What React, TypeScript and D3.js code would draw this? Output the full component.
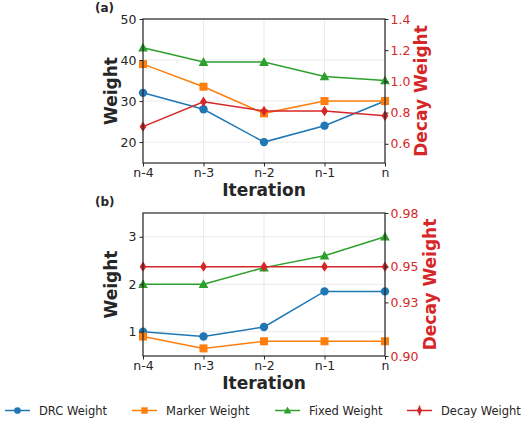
import React, { useEffect, useRef } from "react";
import * as d3 from "d3";

// x categories
const iterations = ["n-4", "n-3", "n-2", "n-1", "n"];

// panel (a)
const drcA = [32, 28, 20, 24, 30];
const markerA = [39, 33.5, 27, 30, 30];
const fixedA = [43, 39.5, 39.5, 36, 35];
const decayA = [0.71, 0.87, 0.81, 0.81, 0.78];
const decayErrA = [0.015, 0.015, 0.015, 0.015, 0.015];
const leftTicksA = [20, 30, 40, 50];
const rightTicksA = [0.6, 0.8, 1.0, 1.2, 1.4];

// panel (b)
const drcB = [1.0, 0.9, 1.1, 1.85, 1.85];
const markerB = [0.9, 0.65, 0.8, 0.8, 0.8];
const fixedB = [2.0, 2.0, 2.35, 2.6, 3.0];
const decayB = [0.95, 0.95, 0.95, 0.95, 0.95];
const decayErrB = [0.001, 0.001, 0.001, 0.001, 0.001];
const leftTicksB = [1, 2, 3];
const rightTicksB = [0.9, 0.93, 0.95, 0.98];

const seriesNames = ["DRC Weight", "Marker Weight", "Fixed Weight", "Decay Weight"];
const colors = ["#1f77b4", "#ff7f0e", "#2ca02c", "#d62728"];
const markers = ["circle", "square", "triangle", "diamond"];

const FONT = "DejaVu Sans, sans-serif";
const INK = "#262626";

const drawMarker = (g, kind, x, y, color, s = 1) => {
  if (kind === "circle") {
    g.append("circle").attr("cx", x).attr("cy", y).attr("r", 4.2 * s).attr("fill", color);
  } else if (kind === "square") {
    g.append("rect").attr("x", x - 4 * s).attr("y", y - 4 * s).attr("width", 8 * s).attr("height", 8 * s).attr("fill", color);
  } else if (kind === "triangle") {
    g.append("path")
      .attr("d", `M${x},${y - 5 * s}L${x + 4.8 * s},${y + 3.8 * s}L${x - 4.8 * s},${y + 3.8 * s}Z`)
      .attr("fill", color);
  } else {
    g.append("path")
      .attr("d", `M${x},${y - 5.2 * s}L${x + 3.4 * s},${y}L${x},${y + 5.2 * s}L${x - 3.4 * s},${y}Z`)
      .attr("fill", color);
  }
};

const App = () => {
  const ref = useRef(null);

  useEffect(() => {
    const svg = d3.select(ref.current);
    svg.selectAll("*").remove();

    const x = d3.scalePoint().domain(iterations).range([143, 385]);

    const drawPanel = (p) => {
      const g = svg.append("g");
      const yL = d3.scaleLinear().domain(p.leftDomain).range([p.bottom, p.top]);
      const yR = d3.scaleLinear().domain(p.rightDomain).range([p.bottom, p.top]);

      // grid
      g.append("g")
        .selectAll("line.gy")
        .data(p.leftTicks)
        .enter()
        .append("line")
        .attr("x1", 143).attr("x2", 385)
        .attr("y1", (d) => yL(d)).attr("y2", (d) => yL(d))
        .attr("stroke", "#e6e6e6").attr("stroke-width", 0.8);
      g.append("g")
        .selectAll("line.gx")
        .data(iterations)
        .enter()
        .append("line")
        .attr("x1", (d) => x(d)).attr("x2", (d) => x(d))
        .attr("y1", p.top).attr("y2", p.bottom)
        .attr("stroke", "#e6e6e6").attr("stroke-width", 0.8);

      // series
      const sets = [
        { vals: p.drc, y: yL },
        { vals: p.marker, y: yL },
        { vals: p.fixed, y: yL },
        { vals: p.decay, y: yR },
      ];
      sets.forEach((s, i) => {
        const line = d3.line().x((d, j) => x(iterations[j])).y((d) => s.y(d));
        g.append("path")
          .attr("d", line(s.vals))
          .attr("fill", "none")
          .attr("stroke", colors[i])
          .attr("stroke-width", 1.5);
        s.vals.forEach((v, j) => {
          if (i === 3) {
            g.append("line")
              .attr("x1", x(iterations[j])).attr("x2", x(iterations[j]))
              .attr("y1", yR(v - p.decayErr[j])).attr("y2", yR(v + p.decayErr[j]))
              .attr("stroke", colors[i]).attr("stroke-width", 1.5);
          }
          drawMarker(g, markers[i], x(iterations[j]), s.y(v), colors[i]);
        });
      });

      // spines
      g.append("rect")
        .attr("x", 143).attr("y", p.top)
        .attr("width", 242).attr("height", p.bottom - p.top)
        .attr("fill", "none").attr("stroke", INK).attr("stroke-width", 1.2);

      // x axis
      const xa = g.append("g").attr("transform", `translate(0,${p.bottom})`)
        .call(d3.axisBottom(x).tickSize(3.5).tickPadding(1.5));
      xa.select(".domain").remove();
      xa.selectAll("line").attr("stroke", INK).attr("stroke-width", 1);
      xa.selectAll("text").attr("font-family", FONT).attr("font-size", 12.5).attr("fill", INK);

      // left axis
      const la = g.append("g").attr("transform", "translate(143,0)")
        .call(d3.axisLeft(yL).tickValues(p.leftTicks).tickFormat(d3.format("d")).tickSize(3.5).tickPadding(3));
      la.select(".domain").remove();
      la.selectAll("line").attr("stroke", INK);
      la.selectAll("text").attr("font-family", FONT).attr("font-size", 12.5).attr("fill", INK);

      // right axis
      const ra = g.append("g").attr("transform", "translate(385,0)")
        .call(d3.axisRight(yR).tickValues(p.rightTicks).tickFormat(d3.format(p.rightFmt)).tickSize(3.5).tickPadding(2));
      ra.select(".domain").remove();
      ra.selectAll("line").attr("stroke", INK);
      ra.selectAll("text").attr("font-family", FONT).attr("font-size", 12.5).attr("fill", colors[3]);

      const mid = (p.top + p.bottom) / 2;
      g.append("text")
        .attr("transform", `translate(117,${mid}) rotate(-90)`)
        .attr("text-anchor", "middle")
        .attr("font-family", FONT).attr("font-size", 17).attr("font-weight", "bold")
        .attr("fill", INK)
        .text("Weight");
      g.append("text")
        .attr("transform", `translate(${p.rightLabelX},${mid}) rotate(-90)`)
        .attr("text-anchor", "middle")
        .attr("font-family", FONT).attr("font-size", 17).attr("font-weight", "bold")
        .attr("fill", colors[3])
        .text("Decay Weight");
      g.append("text")
        .attr("x", 264).attr("y", p.bottom + 33)
        .attr("text-anchor", "middle")
        .attr("font-family", FONT).attr("font-size", 17).attr("font-weight", "bold")
        .attr("fill", INK)
        .text("Iteration");
      g.append("text")
        .attr("x", 95).attr("y", p.top - 7)
        .attr("font-family", FONT).attr("font-size", 12).attr("font-weight", "bold")
        .attr("fill", INK)
        .text(p.label);
    };

    drawPanel({
      top: 19, bottom: 163,
      leftDomain: [14.9, 50], rightDomain: [0.477, 1.4],
      leftTicks: leftTicksA, rightTicks: rightTicksA, rightFmt: ".1f",
      drc: drcA, marker: markerA, fixed: fixedA, decay: decayA, decayErr: decayErrA,
      rightLabelX: 427, label: "(a)",
    });
    drawPanel({
      top: 213, bottom: 356,
      leftDomain: [0.49, 3.5], rightDomain: [0.9, 0.98],
      leftTicks: leftTicksB, rightTicks: rightTicksB, rightFmt: ".2f",
      drc: drcB, marker: markerB, fixed: fixedB, decay: decayB, decayErr: decayErrB,
      rightLabelX: 436, label: "(b)",
    });

    // legend
    const legendX = [5, 132, 275, 407];
    const lg = svg.append("g");
    seriesNames.forEach((name, i) => {
      const lx = legendX[i];
      const ly = 410.5;
      lg.append("line")
        .attr("x1", lx).attr("x2", lx + 25).attr("y1", ly).attr("y2", ly)
        .attr("stroke", colors[i]).attr("stroke-width", 1.5);
      if (i === 3) {
        lg.append("line")
          .attr("x1", lx + 12.5).attr("x2", lx + 12.5).attr("y1", ly - 5).attr("y2", ly + 5)
          .attr("stroke", colors[i]).attr("stroke-width", 1.5);
      }
      drawMarker(lg, markers[i], lx + 12.5, ly, colors[i], 0.8);
      lg.append("text")
        .attr("x", lx + 34).attr("y", ly + 4)
        .attr("font-family", FONT).attr("font-size", 11.5)
        .attr("fill", INK)
        .text(name);
    });
  }, []);

  return (
    <svg
      ref={ref}
      width={522}
      height={425}
      style={{ position: "absolute", left: 0, top: 0, background: "#fff" }}
    />
  );
};

export default App;
